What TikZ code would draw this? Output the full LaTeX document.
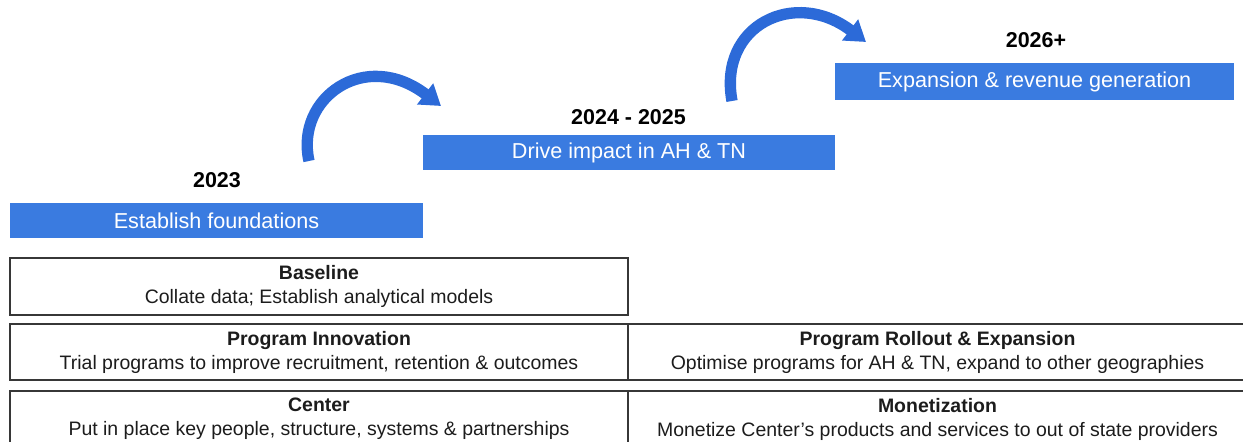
\documentclass[tikz,border=0pt]{standalone}
\usepackage{fontspec}
\setmainfont{Liberation Sans}
\usetikzlibrary{arrows.meta}
\definecolor{barblue}{RGB}{58,123,224}
\definecolor{arrowblue}{RGB}{44,106,216}
\definecolor{boxline}{RGB}{55,55,55}
\definecolor{boxtext}{RGB}{28,28,28}

\begin{document}
\begin{tikzpicture}[x=0.75pt,y=-0.75pt,
  phase/.style={fill=barblue, draw=none, text=white, inner sep=0pt,
    font=\fontsize{16.2}{19}\selectfont},
  year/.style={text=black, inner sep=0pt, font=\bfseries\fontsize{16.1}{19}\selectfont},
  cell/.style={draw=boxline, line width=1pt, text=boxtext, inner sep=0pt,
    align=center, font=\fontsize{14.6}{18}\selectfont},
  curvearrow/.style={draw=arrowblue, line width=8.5pt,
    -{Triangle[length=15pt,width=19pt]}}]

\useasboundingbox (0,0) rectangle (1243,442);
\clip (0,0) rectangle (1243,442);

% phase bars, stepping upwards
\node[phase, minimum width=309.75pt, minimum height=26.25pt] (bar1) at (216.5,220.5) {Establish foundations};
\node[phase, minimum width=309pt, minimum height=26.25pt] (bar2) at (629,152.5) {Drive impact in AH \& TN};
\node[phase, minimum width=299.25pt, minimum height=27.75pt] (bar3) at (1034.5,81.5) {Expansion \& revenue generation};

% years
\node[year] (y1) at (217,180) {2023};
\node[year] (y2) at (628.5,117) {2024 - 2025};
\node[year] (y3) at (1036,40) {2026+};

% curved arrows between phases
\coordinate (a1s) at (309,161);
\coordinate (a1e) at (441,106);
\draw[curvearrow] (a1s) .. controls (295,98) and (365,48) .. (a1e);
\coordinate (a2s) at (732,101);
\coordinate (a2e) at (866,42);
\draw[curvearrow] (a2s) .. controls (718,25) and (795,-12) .. (a2e);

% workstream table
\node[cell, minimum width=463.5pt, minimum height=42.75pt] (base) at (319,286.5)
  {\textbf{Baseline}\\Collate data; Establish analytical models};
\node[cell, minimum width=463.5pt, minimum height=42pt] (innov) at (319,352)
  {\textbf{Program Innovation}\\Trial programs to improve recruitment, retention \& outcomes};
\node[cell, minimum width=464.25pt, minimum height=42pt] (roll) at (937.5,352)
  {\textbf{Program Rollout \& Expansion}\\Optimise programs for AH \& TN, expand to other geographies};
\node[cell, minimum width=463.5pt, minimum height=42pt] (center) at (319,419)
  {\textbf{Center}\\Put in place key people, structure, systems \& partnerships};
\node[cell, minimum width=464.25pt, minimum height=42pt] (money) at (937.5,419)
  {\textbf{Monetization}\\Monetize Center's products and services to out of state providers};
\end{tikzpicture}
\end{document}
